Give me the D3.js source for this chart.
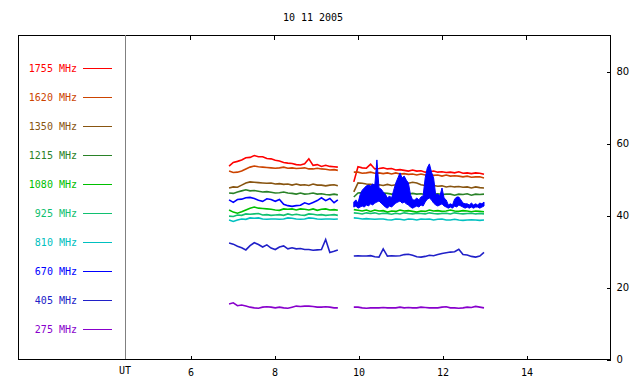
<!DOCTYPE html>
<html>
<head>
<meta charset="utf-8">
<script src="https://cdn.jsdelivr.net/npm/d3@7"></script>
<style>
  body { margin: 0; background: #fff; }
  text { font-family: "DejaVu Sans Mono", monospace; font-size: 10px; }
</style>
</head>
<body>
<div id="chart"></div>
<script>
// Radio flux records, one curve per frequency, two observing runs

const freqs  = ["1755", "1620", "1350", "1215", "1080", "925", "810", "670", "405", "275"];
const colors = ["#ff0000", "#cc4400", "#885511", "#2a8228", "#00c000", "#10c070", "#00c0c0", "#0000ff", "#2020c8", "#8800cc"];

const xTicks = [6, 8, 10, 12, 14];
const yTicks = [0, 20, 40, 60, 80];

// sample times (UT hours) of the two runs
const t1 = [6.93, 7.03, 7.13, 7.23, 7.33, 7.43, 7.53, 7.63, 7.73, 7.83, 7.93, 8.03, 8.13, 8.23, 8.33, 8.43, 8.53, 8.63, 8.73, 8.83, 8.93, 9.03, 9.13, 9.23, 9.33, 9.43, 9.52];
const t2 = [9.90, 10.0, 10.1, 10.2, 10.3, 10.4, 10.5, 10.6, 10.7, 10.8, 10.9, 11.0, 11.1, 11.2, 11.3, 11.4, 11.5, 11.6, 11.7, 11.8, 11.9, 12.0, 12.1, 12.2, 12.3, 12.4, 12.5, 12.6, 12.7, 12.8, 12.9, 13.0];
// the 670 MHz second run is sampled finer (it is very spiky)
const t2fine = [9.90, 9.95, 10.00, 10.05, 10.10, 10.15, 10.20, 10.25, 10.30, 10.35, 10.40, 10.45, 10.50, 10.55, 10.60, 10.65, 10.70, 10.75, 10.80, 10.85, 10.90, 10.95, 11.00, 11.05, 11.10, 11.15, 11.20, 11.25, 11.30, 11.35, 11.40, 11.45, 11.50, 11.55, 11.60, 11.65, 11.70, 11.75, 11.80, 11.85, 11.90, 11.95, 12.00, 12.05, 12.10, 12.15, 12.20, 12.25, 12.30, 12.35, 12.40, 12.45, 12.50, 12.55, 12.60, 12.65, 12.70, 12.75, 12.80, 12.85, 12.90, 12.95, 13.00];

const f1755a = [53.6, 54.6, 54.9, 55.3, 55.9, 56.0, 56.5, 56.2, 56.2, 55.7, 55.6, 55.2, 55.0, 54.6, 54.4, 54.3, 54.0, 53.9, 54.2, 55.6, 53.8, 54.0, 53.5, 53.8, 53.5, 53.4, 53.3];
const f1755b = [49.2, 53.4, 53.1, 53.0, 54.1, 52.8, 52.9, 53.1, 52.8, 52.9, 52.5, 52.6, 52.4, 52.2, 52.5, 52.2, 52.3, 51.9, 52.0, 52.2, 51.9, 52.0, 51.8, 51.9, 51.7, 52.0, 51.6, 51.7, 51.5, 51.7, 51.6, 51.3];
const f1620a = [52.2, 51.8, 51.9, 52.2, 52.8, 53.3, 53.6, 53.4, 53.3, 53.2, 53.1, 53.0, 53.1, 53.3, 53.0, 53.1, 52.9, 53.0, 53.1, 52.8, 52.8, 53.0, 52.8, 52.7, 52.5, 52.6, 52.4];
const f1620b = [51.9, 51.9, 51.6, 51.7, 51.9, 51.6, 51.7, 51.5, 51.7, 51.4, 51.7, 51.4, 51.5, 51.3, 51.4, 51.1, 51.4, 51.1, 51.2, 51.0, 51.1, 50.8, 51.1, 50.8, 50.9, 50.8, 50.6, 50.8, 50.5, 50.6, 50.6, 50.3];
const f1350a = [47.5, 47.8, 47.7, 48.3, 48.9, 49.2, 49.1, 49.0, 48.9, 48.8, 48.9, 48.6, 48.7, 48.5, 48.6, 48.3, 48.6, 48.3, 48.4, 48.2, 48.6, 48.3, 48.3, 48.1, 48.3, 48.4, 48.1];
const f1350b = [46.4, 48.9, 48.8, 48.6, 48.5, 48.3, 48.4, 48.2, 48.5, 48.2, 48.4, 48.1, 48.6, 48.8, 49.1, 48.9, 48.4, 48.2, 48.1, 48.2, 48.0, 48.1, 47.8, 48.0, 47.8, 47.9, 47.7, 47.8, 47.5, 47.8, 47.6, 47.5];
const f1215a = [46.1, 46.0, 46.4, 46.7, 47.0, 46.7, 46.8, 46.6, 46.4, 46.5, 46.3, 46.1, 46.2, 46.4, 46.1, 46.0, 45.8, 46.1, 45.8, 45.9, 46.1, 45.8, 45.9, 45.7, 45.6, 45.8, 45.6];
const f1215b = [45.0, 46.1, 46.2, 45.9, 46.1, 46.0, 45.8, 46.1, 46.0, 45.8, 45.9, 46.1, 46.2, 45.8, 46.0, 45.8, 45.9, 45.7, 46.1, 45.8, 45.9, 45.7, 45.8, 45.8, 45.5, 45.8, 45.7, 45.9, 45.5, 45.8, 45.7, 45.8];
const f1080a = [41.4, 40.8, 40.5, 40.9, 41.4, 41.9, 42.2, 41.9, 41.8, 41.7, 41.6, 41.4, 41.3, 41.7, 41.6, 41.7, 41.4, 41.7, 41.6, 41.4, 41.7, 41.3, 41.6, 41.7, 41.4, 41.5, 41.3];
const f1080b = [41.5, 41.3, 41.1, 41.4, 41.0, 41.4, 41.1, 41.2, 40.8, 41.1, 41.0, 41.4, 41.1, 41.2, 41.0, 40.8, 41.1, 41.0, 41.4, 41.1, 41.2, 41.0, 41.1, 41.4, 41.1, 41.0, 41.2, 41.1, 40.9, 41.1, 41.0, 40.9];
const f925a  = [39.7, 39.6, 40.0, 39.9, 40.3, 40.2, 40.3, 40.4, 40.0, 40.1, 39.9, 40.0, 40.1, 39.9, 40.3, 40.0, 40.2, 40.0, 39.9, 40.3, 40.2, 40.0, 40.1, 39.9, 40.0, 40.1, 39.9];
const f925b  = [40.6, 40.5, 40.3, 40.6, 40.4, 40.6, 40.3, 40.5, 40.4, 40.2, 40.5, 40.3, 40.6, 40.4, 40.3, 40.5, 40.4, 40.3, 40.6, 40.4, 40.3, 40.4, 40.5, 40.3, 40.6, 40.4, 40.3, 40.4, 40.5, 40.3, 40.4, 40.3];
const f810a  = [38.6, 38.2, 38.6, 38.9, 38.8, 39.2, 39.1, 39.2, 38.9, 38.8, 38.9, 38.9, 38.8, 38.9, 39.2, 39.1, 38.9, 38.8, 38.9, 39.2, 39.1, 38.9, 38.8, 38.9, 38.9, 38.8, 38.9];
const f810b  = [39.2, 39.1, 38.9, 39.0, 38.9, 38.8, 38.9, 38.9, 38.7, 38.6, 38.9, 38.8, 38.6, 38.9, 38.8, 38.6, 38.9, 38.8, 38.9, 38.6, 38.8, 38.9, 38.6, 38.6, 38.8, 38.6, 38.5, 38.6, 38.7, 38.6, 38.5, 38.6];
const f670a  = [44.2, 43.5, 44.3, 44.4, 44.8, 44.9, 44.6, 44.1, 43.8, 44.5, 44.3, 43.8, 44.3, 43.0, 42.6, 42.4, 42.6, 42.7, 43.4, 43.0, 43.5, 44.0, 44.8, 44.0, 44.6, 43.4, 44.2];
// 670 MHz second run: the trace is so noisy that it fills a band; upper and lower edges
const f670bHigh = [43.6, 44.2, 43.3, 45.6, 46.9, 47.5, 48.1, 48.3, 48.1, 48.6, 48.3, 55.3, 47.5, 47.2, 46.4, 45.8, 44.7, 45.3, 44.7, 46.9, 48.9, 50.3, 51.7, 50.3, 50.8, 49.7, 48.9, 45.6, 44.2, 44.2, 44.7, 44.2, 45.0, 45.3, 50.3, 53.1, 54.2, 51.9, 50.3, 45.6, 45.8, 45.3, 47.5, 44.7, 44.2, 42.8, 43.1, 42.8, 44.4, 45.0, 45.0, 44.2, 43.3, 43.1, 43.1, 42.8, 43.3, 42.8, 43.1, 42.8, 43.3, 43.1, 43.6];
const f670bLow  = [42.2, 42.5, 41.9, 42.2, 42.5, 42.2, 42.8, 42.5, 43.1, 42.8, 43.3, 43.6, 43.9, 43.3, 42.8, 42.2, 41.9, 42.5, 42.2, 42.8, 43.3, 43.6, 43.9, 43.3, 43.6, 43.1, 42.8, 42.2, 41.9, 42.2, 42.5, 42.2, 42.8, 42.5, 43.6, 44.4, 44.7, 44.2, 43.3, 42.8, 42.5, 42.8, 43.1, 42.5, 42.2, 41.9, 42.2, 41.9, 42.5, 42.2, 42.8, 42.5, 42.2, 41.9, 42.2, 41.9, 42.2, 41.9, 42.2, 42.2, 41.9, 42.2, 42.5];
const f405a  = [32.2, 31.9, 31.3, 30.9, 30.3, 31.5, 32.3, 31.8, 31.1, 31.7, 30.8, 30.4, 31.1, 31.4, 30.6, 30.9, 30.6, 30.7, 30.4, 30.4, 30.2, 30.3, 30.4, 33.2, 29.6, 29.9, 30.3];
const f405b  = [28.6, 28.7, 28.6, 28.6, 28.7, 28.4, 28.3, 30.6, 28.6, 28.7, 28.6, 28.7, 29.0, 29.1, 28.8, 28.4, 28.3, 28.5, 28.8, 28.7, 29.0, 29.3, 29.5, 29.7, 29.8, 30.5, 29.0, 28.9, 28.5, 28.3, 28.6, 29.6];
const f275a  = [15.3, 15.6, 14.8, 15.0, 14.7, 14.4, 14.2, 14.1, 14.4, 14.5, 14.4, 14.2, 14.4, 14.2, 14.1, 14.4, 14.7, 14.6, 14.7, 14.7, 14.6, 14.4, 14.4, 14.5, 14.4, 14.2, 14.2];
const f275b  = [14.4, 14.4, 14.2, 14.1, 14.2, 14.2, 14.2, 14.3, 14.2, 14.2, 14.2, 14.4, 14.2, 14.3, 14.2, 14.2, 14.4, 14.3, 14.2, 14.2, 14.2, 14.4, 14.5, 14.2, 14.2, 14.1, 14.2, 14.4, 14.3, 14.6, 14.4, 14.2];

// series table built from the arrays above (same order as freqs)
const series = [
  { runs: [[t1, f1755a], [t2, f1755b]] },
  { runs: [[t1, f1620a], [t2, f1620b]] },
  { runs: [[t1, f1350a], [t2, f1350b]] },
  { runs: [[t1, f1215a], [t2, f1215b]] },
  { runs: [[t1, f1080a], [t2, f1080b]] },
  { runs: [[t1, f925a],  [t2, f925b]] },
  { runs: [[t1, f810a],  [t2, f810b]] },
  { runs: [[t1, f670a]], bands: [[t2fine, f670bLow, f670bHigh]] },
  { runs: [[t1, f405a],  [t2, f405b]] },
  { runs: [[t1, f275a],  [t2, f275b]] }
];

const W = 640, H = 384;
const frame = { left: 18, top: 35, right: 610, bottom: 359 };
const plotLeft = 125;   // the UT line

const svg = d3.select("#chart").append("svg")
  .attr("width", W)
  .attr("height", H);

// x: 42 px per hour, 6 h sits at x=190
const x = d3.scaleLinear()
  .domain([6 - (190 - plotLeft) / 42, 6 + (frame.right - 190) / 42])
  .range([plotLeft, frame.right]);

const y = d3.scaleLinear()
  .domain([0, 90])
  .range([frame.bottom, frame.top]);

// title
svg.append("text")
  .attr("x", 313)
  .attr("y", 21)
  .attr("text-anchor", "middle")
  .text("10 11 2005");

// outer box
svg.append("rect")
  .attr("x", frame.left + 0.5)
  .attr("y", frame.top + 0.5)
  .attr("width", frame.right - frame.left)
  .attr("height", frame.bottom - frame.top)
  .attr("fill", "none")
  .attr("stroke", "#000")
  .attr("stroke-width", 1)
  .attr("shape-rendering", "crispEdges");

// UT separator line
svg.append("line")
  .attr("x1", plotLeft + 0.5).attr("x2", plotLeft + 0.5)
  .attr("y1", frame.top).attr("y2", frame.bottom)
  .attr("stroke", "#808080")
  .attr("shape-rendering", "crispEdges");

// bottom axis, small ticks pointing up into the plot
const xAxis = svg.append("g")
  .attr("transform", `translate(0.5,${frame.bottom + 0.5})`)
  .call(d3.axisBottom(x).tickValues(xTicks).tickSizeInner(-4).tickSizeOuter(0).tickPadding(9));
xAxis.select(".domain").remove();
xAxis.selectAll("line").attr("shape-rendering", "crispEdges");
xAxis.selectAll("text").style("font-family", "DejaVu Sans Mono").style("font-size", "10px");

// top border ticks pointing down
svg.append("g").selectAll("line")
  .data(xTicks)
  .enter().append("line")
    .attr("x1", d => Math.round(x(d)) + 0.5)
    .attr("x2", d => Math.round(x(d)) + 0.5)
    .attr("y1", frame.top)
    .attr("y2", frame.top + 5)
    .attr("stroke", "#000")
    .attr("shape-rendering", "crispEdges");

svg.append("text")
  .attr("x", plotLeft)
  .attr("y", frame.bottom + 15)
  .attr("text-anchor", "middle")
  .text("UT");

// right axis
const yAxis = svg.append("g")
  .attr("transform", `translate(${frame.right + 0.5},0.5)`)
  .call(d3.axisRight(y).tickValues(yTicks).tickSizeInner(-4).tickSizeOuter(0).tickPadding(6));
yAxis.select(".domain").remove();
yAxis.selectAll("line").attr("shape-rendering", "crispEdges");
yAxis.selectAll("text").style("font-family", "DejaVu Sans").style("font-size", "10px");

// data curves, each run drawn on its own so the gap stays empty
const line = d3.line()
  .x(d => x(d[0]))
  .y(d => y(d[1]));

const band = d3.area()
  .x(d => x(d[0]))
  .y0(d => y(d[1]))
  .y1(d => y(d[2]));

const curves = svg.append("g");
series.forEach((s, i) => {
  s.runs.forEach(run => {
    const pts = run[1].map((v, j) => [run[0][j], v]);
    curves.append("path")
      .datum(pts)
      .attr("d", line)
      .attr("fill", "none")
      .attr("stroke", colors[i])
      .attr("stroke-width", 1.6);
  });
  (s.bands || []).forEach(b => {
    const pts = b[1].map((v, j) => [b[0][j], v, b[2][j]]);
    curves.append("path")
      .datum(pts)
      .attr("d", band)
      .attr("fill", colors[i])
      .attr("stroke", colors[i])
      .attr("stroke-width", 1);
  });
});

// legend on the left
const legendY = d3.scalePoint()
  .domain(freqs)
  .range([68, 329]);

const legend = svg.append("g");
freqs.forEach((f, i) => {
  legend.append("text")
    .attr("x", 77)
    .attr("y", legendY(f))
    .attr("dy", "0.35em")
    .attr("text-anchor", "end")
    .attr("fill", colors[i])
    .text(f + " MHz");
  legend.append("line")
    .attr("x1", 83).attr("x2", 112)
    .attr("y1", legendY(f) + 0.5).attr("y2", legendY(f) + 0.5)
    .attr("stroke", colors[i])
    .attr("shape-rendering", "crispEdges");
});
</script>
</body>
</html>
